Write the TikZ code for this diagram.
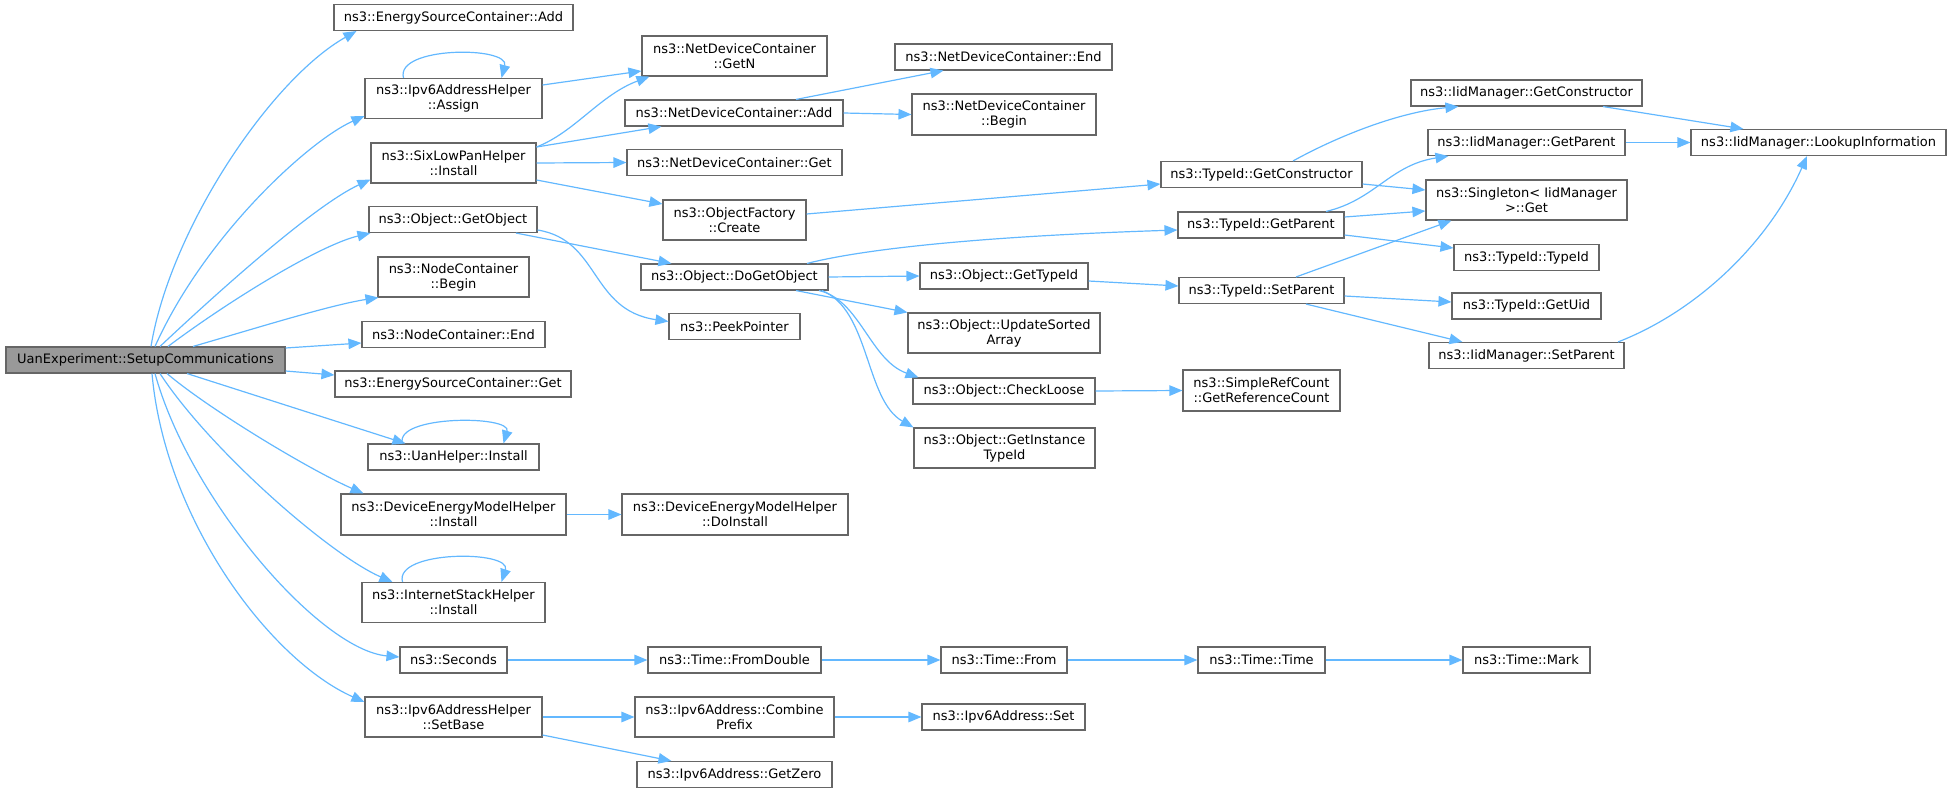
\documentclass[tikz,border=0pt]{standalone}
\usepackage{fontspec}
\newfontfamily\dvs{DejaVu Sans}
\usetikzlibrary{arrows.meta}
\definecolor{edgeblue}{HTML}{63B8FF}
\definecolor{boxline}{HTML}{666666}
\definecolor{rootfill}{HTML}{999999}
\tikzset{
  box/.style={draw=boxline, line width=1.1pt, fill=white, inner sep=0pt, align=center,
    font=\dvs\fontsize{13}{15}\selectfont, text=black},
  rootbox/.style={box, fill=rootfill},
  edge/.style={draw=edgeblue, line width=1.2pt, -{Triangle[length=13pt,width=10.5pt]}},
}
\begin{document}
\begin{tikzpicture}[x=1pt,y=-1pt]
\useasboundingbox (0,0) rectangle (1952,792);
% root
\node[rootbox, minimum width=279pt, minimum height=26pt] (r) at (145.5,360) {UanExperiment::SetupCommunications};
% level 1
\node[box, minimum width=239pt, minimum height=26pt] (n1) at (453.5,17.5) {ns3::EnergySourceContainer::Add};
\node[box, minimum width=177pt, minimum height=40pt] (n2) at (453.5,98.5) {ns3::Ipv6AddressHelper\\::Assign};
\node[box, minimum width=165pt, minimum height=40pt] (n3) at (453.5,163) {ns3::SixLowPanHelper\\::Install};
\node[box, minimum width=168pt, minimum height=26pt] (n4) at (453,219.5) {ns3::Object::GetObject};
\node[box, minimum width=151pt, minimum height=40pt] (n5) at (453.5,277) {ns3::NodeContainer\\::Begin};
\node[box, minimum width=183pt, minimum height=26pt] (n6) at (453.5,334.5) {ns3::NodeContainer::End};
\node[box, minimum width=236pt, minimum height=26pt] (n7) at (453,384) {ns3::EnergySourceContainer::Get};
\node[box, minimum width=171pt, minimum height=26pt] (n8) at (453.5,457) {ns3::UanHelper::Install};
\node[box, minimum width=225pt, minimum height=41pt] (n9) at (453.5,514.5) {ns3::DeviceEnergyModelHelper\\::Install};
\node[box, minimum width=183pt, minimum height=40pt] (n10) at (453.5,602.5) {ns3::InternetStackHelper\\::Install};
\node[box, minimum width=107pt, minimum height=26pt] (n11) at (453.5,660) {ns3::Seconds};
\node[box, minimum width=177pt, minimum height=40pt] (n12) at (453.5,717) {ns3::Ipv6AddressHelper\\::SetBase};
% level 2
\node[box, minimum width=185pt, minimum height=40pt] (m1) at (734.5,56) {ns3::NetDeviceContainer\\::GetN};
\node[box, minimum width=218pt, minimum height=26pt] (m2) at (734,113) {ns3::NetDeviceContainer::Add};
\node[box, minimum width=215pt, minimum height=26pt] (m3) at (734.5,162.5) {ns3::NetDeviceContainer::Get};
\node[box, minimum width=143pt, minimum height=40pt] (m4) at (734.5,220) {ns3::ObjectFactory\\::Create};
\node[box, minimum width=187pt, minimum height=26pt] (m5) at (734.5,277) {ns3::Object::DoGetObject};
\node[box, minimum width=131pt, minimum height=26pt] (m6) at (734.5,326.5) {ns3::PeekPointer};
\node[box, minimum width=226pt, minimum height=41pt] (m7) at (735,514.5) {ns3::DeviceEnergyModelHelper\\::DoInstall};
\node[box, minimum width=173pt, minimum height=26pt] (m8) at (734.5,660) {ns3::Time::FromDouble};
\node[box, minimum width=199pt, minimum height=40pt] (m9) at (734.5,717) {ns3::Ipv6Address::Combine\\Prefix};
\node[box, minimum width=195pt, minimum height=26pt] (m10) at (734.5,774.5) {ns3::Ipv6Address::GetZero};
% level 3
\node[box, minimum width=217pt, minimum height=26pt] (k1) at (1003.5,57) {ns3::NetDeviceContainer::End};
\node[box, minimum width=184pt, minimum height=41pt] (k2) at (1004,114.5) {ns3::NetDeviceContainer\\::Begin};
\node[box, minimum width=168pt, minimum height=26pt] (k3) at (1004,276) {ns3::Object::GetTypeId};
\node[box, minimum width=192pt, minimum height=40pt] (k4) at (1004,333) {ns3::Object::UpdateSorted\\Array};
\node[box, minimum width=182pt, minimum height=26pt] (k5) at (1004,391) {ns3::Object::CheckLoose};
\node[box, minimum width=181pt, minimum height=40pt] (k6) at (1004.5,448) {ns3::Object::GetInstance\\TypeId};
\node[box, minimum width=126pt, minimum height=26pt] (k7) at (1004,660) {ns3::Time::From};
\node[box, minimum width=163pt, minimum height=26pt] (k8) at (1003.5,717) {ns3::Ipv6Address::Set};
% level 4
\node[box, minimum width=201pt, minimum height=26pt] (j1) at (1261.5,174.5) {ns3::TypeId::GetConstructor};
\node[box, minimum width=166pt, minimum height=26pt] (j2) at (1261,225) {ns3::TypeId::GetParent};
\node[box, minimum width=165pt, minimum height=26pt] (j3) at (1261.5,290.5) {ns3::TypeId::SetParent};
\node[box, minimum width=157pt, minimum height=41pt] (j4) at (1261.5,390.5) {ns3::SimpleRefCount\\::GetReferenceCount};
\node[box, minimum width=127pt, minimum height=26pt] (j5) at (1261.5,660) {ns3::Time::Time};
% level 5
\node[box, minimum width=231pt, minimum height=26pt] (i1) at (1526.5,93) {ns3::IidManager::GetConstructor};
\node[box, minimum width=197pt, minimum height=26pt] (i2) at (1526.5,142.5) {ns3::IidManager::GetParent};
\node[box, minimum width=201pt, minimum height=40pt] (i3) at (1526.5,200) {ns3::Singleton< IidManager\\>::Get};
\node[box, minimum width=145pt, minimum height=26pt] (i4) at (1526.5,257.5) {ns3::TypeId::TypeId};
\node[box, minimum width=149pt, minimum height=26pt] (i5) at (1526.5,306) {ns3::TypeId::GetUid};
\node[box, minimum width=195pt, minimum height=26pt] (i6) at (1526.5,355.5) {ns3::IidManager::SetParent};
\node[box, minimum width=127pt, minimum height=26pt] (i7) at (1526.5,660) {ns3::Time::Mark};
% level 6
\node[box, minimum width=255pt, minimum height=26pt] (L) at (1818.5,142.5) {ns3::IidManager::LookupInformation};

% edges from root
\draw[edge] ([xshift=5.5pt]r.north) .. controls (170,230) and (270,80) .. ([xshift=23pt]n1.south west);
\draw[edge] ([xshift=9.5pt]r.north) .. controls (205,235) and (310,140) .. ([yshift=3pt]n2.south west);
\draw[edge] ([xshift=14.5pt]r.north) .. controls (220,290) and (315,205) .. ([yshift=4pt]n3.south west);
\draw[edge] ([xshift=22.5pt]r.north) .. controls (230,300) and (320,245) .. ([xshift=2pt]n4.south west);
\draw[edge] ([xshift=47.5pt]r.north) .. controls (250,330) and (330,305) .. ([xshift=1pt]n5.south west);
\draw[edge] ([yshift=12pt]r.east) -- ([yshift=-8.5pt]n6.west);
\draw[edge] ([yshift=-11pt]r.east) -- ([yshift=9pt]n7.west);
\draw[edge] ([xshift=41.5pt]r.south) -- ([xshift=38pt]n8.north west);
\draw[edge] ([xshift=21.5pt]r.south) .. controls (210,410) and (310,470) .. ([xshift=23pt]n9.north west);
\draw[edge] ([xshift=14.5pt]r.south) .. controls (210,450) and (330,555) .. ([xshift=31pt]n10.north west);
\draw[edge] ([xshift=9.5pt]r.south) .. controls (190,500) and (320,650) .. ([yshift=3pt]n11.west);
\draw[edge] ([xshift=6.5pt]r.south) .. controls (165,520) and (270,660) .. ([yshift=15pt]n12.west);
% self loops
\draw[edge] ([xshift=-50pt]n2.north) .. controls (395,46) and (510,46) .. ([xshift=48pt]n2.north);
\draw[edge] ([xshift=-51pt]n8.north) .. controls (394,415) and (512,415) .. ([xshift=50pt]n8.north);
\draw[edge] ([xshift=-51pt]n10.north) .. controls (394,550) and (512,550) .. ([xshift=48pt]n10.north);
% level 1 -> 2
\draw[edge] ([yshift=13.5pt]n2.east) -- ([yshift=-15pt]m1.west);
\draw[edge] ([yshift=16pt]n3.east) .. controls (575,132) and (600,95) .. ([xshift=8pt]m1.south west);
\draw[edge] ([yshift=16pt]n3.east) -- ([xshift=37pt]m2.south west);
\draw[edge] (n3.east) -- (m3.west);
\draw[edge] ([yshift=-17pt]n3.east) -- ([yshift=16pt]m4.west);
\draw[edge] ([xshift=63pt]n4.south) -- ([xshift=31pt]m5.north west);
\draw[edge] ([yshift=-10.5pt]n4.east) .. controls (600,240) and (590,310) .. ([yshift=5pt]m6.west);
\draw[edge] (n9.east) -- (m7.west);
\draw[edge] (n11.east) -- (m8.west);
\draw[edge] (n12.east) -- (m9.west);
\draw[edge] ([yshift=-18pt]n12.east) -- ([xshift=35pt]m10.north west);
% level 2 -> 3/4
\draw[edge] ([xshift=62pt]m2.north) -- ([xshift=49pt]k1.south west);
\draw[edge] (m2.east) -- (k2.west);
\draw[edge] ([yshift=6pt]m4.east) -- ([yshift=-9.5pt]j1.west);
\draw[edge] ([xshift=72.5pt]m5.north) .. controls (840,255) and (930,238) .. ([yshift=-5pt]j2.west);
\draw[edge] (m5.east) -- (k3.west);
\draw[edge] ([xshift=61.5pt]m5.south) -- (k4.north west);
\draw[edge] ([xshift=84.5pt]m5.south) .. controls (860,300) and (870,360) .. ([xshift=6pt]k5.north west);
\draw[edge] ([xshift=87.5pt]m5.south) .. controls (870,310) and (865,400) .. (k6.north west);
\draw[edge] ([yshift=-5pt]k3.east) -- ([yshift=4.5pt]j3.west);
\draw[edge] (k5.east) -- (j4.west);
\draw[edge] (m8.east) -- (k7.west);
\draw[edge] (k7.east) -- (j5.west);
\draw[edge] (j5.east) -- (i7.west);
\draw[edge] (m9.east) -- (k8.west);
% level 4 -> 5
\draw[edge] ([xshift=31.5pt]j1.north) .. controls (1340,135) and (1400,112) .. ([xshift=48pt]i1.south west);
\draw[edge] ([yshift=-9.5pt]j1.east) -- ([yshift=10pt]i3.west);
\draw[edge] ([xshift=65pt]j2.north) .. controls (1375,200) and (1390,165) .. ([xshift=21pt]i2.south west);
\draw[edge] ([yshift=8pt]j2.east) -- ([yshift=-11pt]i3.west);
\draw[edge] ([yshift=-10pt]j2.east) -- ([yshift=9.5pt]i4.west);
\draw[edge] ([xshift=34.5pt]j3.north) -- ([xshift=26pt]i3.south west);
\draw[edge] ([yshift=-5.5pt]j3.east) -- ([yshift=4pt]i5.west);
\draw[edge] ([xshift=44.5pt]j3.south) -- ([xshift=34pt]i6.north west);
% level 5 -> 6
\draw[edge] ([xshift=76.5pt]i1.south) -- ([xshift=53pt]L.north west);
\draw[edge] (i2.east) -- (L.west);
\draw[edge] ([xshift=91.5pt]i6.north) .. controls (1700,310) and (1770,240) .. ([xshift=-11.5pt]L.south);
\end{tikzpicture}
\end{document}
